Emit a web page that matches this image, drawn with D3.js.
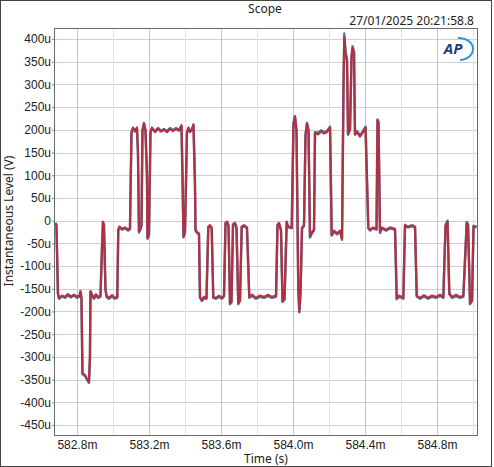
<!DOCTYPE html>
<html>
<head>
<meta charset="utf-8">
<script src="https://cdn.jsdelivr.net/npm/d3@7"></script>
<style>
  html, body { margin: 0; padding: 0; background: #fff; }
  svg { display: block; font-family: "Noto Sans", "DejaVu Sans", sans-serif; }
  .tick text { fill: #222; font-size: 12px; }
</style>
</head>
<body>
<svg id="chart"></svg>
<script>
// Time (ms) of each sample, shared by both channels
const timeMs = [
  582.6806,582.6861,582.6944,582.7000,582.7167,582.7333,582.7500,582.7667,582.7833,582.8000,
  582.8139,582.8194,582.8250,582.8306,582.8444,582.8556,582.8667,582.8722,582.8750,582.8833,
  582.8944,582.9056,582.9167,582.9306,582.9389,582.9444,582.9500,582.9583,582.9639,582.9778,
  582.9944,583.0111,583.0239,583.0294,583.0361,583.0500,583.0667,583.0833,583.0944,583.1028,
  583.1111,583.1222,583.1333,583.1389,583.1444,583.1500,583.1583,583.1639,583.1722,583.1806,
  583.1889,583.1917,583.2000,583.2083,583.2167,583.2333,583.2500,583.2667,583.2833,583.3000,
  583.3167,583.3333,583.3500,583.3667,583.3806,583.3861,583.3917,583.4000,583.4111,583.4194,
  583.4278,583.4389,583.4472,583.4556,583.4583,583.4667,583.4778,583.4833,583.4944,583.5056,
  583.5194,583.5294,583.5389,583.5483,583.5572,583.5722,583.5889,583.6056,583.6167,583.6250,
  583.6333,583.6417,583.6500,583.6583,583.6667,583.6778,583.6861,583.6961,583.7056,583.7150,
  583.7278,583.7444,583.7572,583.7722,583.7944,583.8167,583.8389,583.8611,583.8833,583.9056,
  583.9139,583.9222,583.9333,583.9417,583.9528,583.9650,583.9722,583.9928,584.0028,584.0111,
  584.0194,584.0294,584.0350,584.0417,584.0500,584.0611,584.0694,584.0778,584.0861,584.0944,
  584.1056,584.1167,584.1222,584.1389,584.1556,584.1722,584.1889,584.2056,584.2150,584.2278,
  584.2444,584.2611,584.2722,584.2806,584.2850,584.2917,584.3000,584.3056,584.3167,584.3250,
  584.3306,584.3389,584.3444,584.3556,584.3722,584.3889,584.4028,584.4183,584.4278,584.4444,
  584.4639,584.4694,584.4750,584.4833,584.4944,584.5167,584.5389,584.5667,584.5761,584.5889,
  584.6128,584.6222,584.6389,584.6611,584.6778,584.6872,584.7056,584.7278,584.7500,584.7722,
  584.7944,584.8167,584.8350,584.8472,584.8583,584.8683,584.8833,584.9056,584.9278,584.9461,
  584.9650,584.9722,584.9833,584.9944,585.0028,585.0194
];

// Channel 1 (blue), microvolts
const ch1 = [
  -5,-10,-162,-172,-167,-170,-165,-169,-165,-170,
  -168,-157,-172,-338,-342,-350,-357,-302,-157,-165,
  -172,-165,-170,-168,-62,-4,-12,-152,-168,-172,
  -167,-172,-170,-22,-15,-20,-17,-22,-19,193,
  203,196,203,148,-26,-22,-12,198,213,198,
  98,-40,-32,193,203,197,204,198,202,197,
  204,199,204,200,208,98,-37,-27,193,203,
  197,202,210,78,-22,-27,-30,-170,-177,-171,
  -172,-15,-12,-17,-170,-172,-168,-172,-167,-7,
  -4,-12,-184,-180,-10,-7,-17,-184,-177,-15,
  -12,-17,-170,-166,-172,-168,-170,-166,-170,-168,
  -11,-7,-22,-179,-174,-4,-14,-17,213,228,
  198,-152,-202,-162,-17,-12,188,213,198,-37,
  -27,-22,195,193,199,195,198,207,-33,-24,
  -30,-24,-42,302,412,372,354,191,202,362,
  384,372,191,197,188,197,207,-17,-22,-17,
  -20,223,217,-27,-17,-22,-17,-20,-173,-168,
  -172,-11,-13,-10,-13,-167,-172,-167,-172,-168,
  -170,-166,-170,-12,0,-162,-170,-166,-170,-168,
  -3,-8,-184,-177,-11,-13
];

// Channel 2 (red), microvolts
const ch2 = [
  -5,-10,-160,-170,-165,-168,-162,-167,-163,-167,
  -165,-155,-170,-336,-340,-348,-355,-300,-155,-162,
  -170,-162,-168,-165,-60,-2,-10,-150,-165,-170,
  -164,-170,-168,-20,-13,-18,-15,-20,-17,195,
  205,198,205,150,-24,-20,-10,200,215,200,
  100,-38,-30,195,205,195,202,196,200,195,
  202,197,202,198,210,100,-35,-25,195,205,
  195,200,212,80,-20,-25,-28,-168,-175,-168,
  -170,-13,-10,-15,-168,-170,-165,-170,-165,-5,
  -2,-10,-182,-178,-8,-5,-15,-182,-175,-13,
  -10,-15,-168,-163,-170,-165,-168,-163,-168,-165,
  -9,-5,-20,-177,-172,-2,-12,-15,215,230,
  200,-150,-200,-160,-15,-10,190,215,200,-35,
  -25,-20,193,190,196,192,195,205,-31,-22,
  -28,-22,-40,300,404,370,352,189,200,360,
  380,370,189,195,185,195,205,-15,-20,-15,
  -18,221,215,-25,-15,-20,-15,-18,-171,-165,
  -170,-9,-15,-12,-15,-165,-170,-164,-170,-165,
  -168,-163,-168,-10,-2,-160,-168,-163,-168,-165,
  -5,-10,-182,-175,-13,-15
];

const xDomain = [582.678, 585.022];
const yDomain = [-472, 422];
const xLabelTicks = [582.8, 583.2, 583.6, 584.0, 584.4, 584.8];
const xGridTicks = [582.8, 583.0, 583.2, 583.4, 583.6, 583.8, 584.0, 584.2, 584.4, 584.6, 584.8, 585.0];
const yTicks = [400, 350, 300, 250, 200, 150, 100, 50, 0, -50, -100, -150, -200, -250, -300, -350, -400, -450];

const W = 494, H = 467;
const margin = {top: 29, right: 17, bottom: 32, left: 55},
      width = W - margin.left - margin.right,
      height = H - margin.top - margin.bottom;

const svg = d3.select("#chart").attr("width", W).attr("height", H);

// window frame
svg.append("rect")
    .attr("x", 0.5).attr("y", 0.5)
    .attr("width", 491).attr("height", H - 1)
    .attr("fill", "none").attr("stroke", "#444");

svg.append("text")
    .attr("x", 265).attr("y", 13)
    .attr("text-anchor", "middle")
    .style("font-size", "12px").attr("fill", "#222")
    .text("Scope");

svg.append("text")
    .attr("x", 474).attr("y", 25)
    .attr("text-anchor", "end")
    .style("font-size", "12px").attr("fill", "#222")
    .text("27/01/2025 20:21:58.8");

const g = svg.append("g")
    .attr("transform", "translate(" + margin.left + "," + margin.top + ")");

// Scales
const xScale = d3.scaleLinear().domain(xDomain).range([0, width]);
const yScale = d3.scaleLinear().domain(yDomain).range([height, 0]);

// Grid
g.append("g").selectAll("line")
    .data(yTicks)
    .enter().append("line")
    .attr("x1", 0).attr("x2", width)
    .attr("y1", d => Math.round(yScale(d)) + 0.5)
    .attr("y2", d => Math.round(yScale(d)) + 0.5)
    .attr("stroke", "#cfcfcf");

g.append("g").selectAll("line")
    .data(xGridTicks)
    .enter().append("line")
    .attr("y1", 0).attr("y2", height)
    .attr("x1", d => Math.round(xScale(d)) + 0.5)
    .attr("x2", d => Math.round(xScale(d)) + 0.5)
    .attr("stroke", d => xLabelTicks.some(t => Math.abs(t - d) < 1e-6) ? "#c4c4c4" : "#e2e2e2");

// Axes
const fmtY = d => d === 0 ? "0" : d + "u";
g.append("g")
    .attr("class", "axis axis-y")
    .call(d3.axisLeft(yScale).tickValues(yTicks).tickFormat(fmtY).tickSize(3).tickPadding(1))
    .call(a => a.select(".domain").remove())
    .call(a => a.selectAll(".tick line").attr("stroke", "#888"));

g.append("g")
    .attr("class", "axis axis-x")
    .attr("transform", "translate(0," + height + ")")
    .call(d3.axisBottom(xScale).tickValues(xLabelTicks).tickFormat(d => d.toFixed(1) + "m").tickSize(0).tickPadding(5))
    .call(a => a.select(".domain").remove());

// Traces
g.append("clipPath").attr("id", "clip")
    .append("rect").attr("width", width).attr("height", height);

const line = vals => d3.line()
    .x((d, i) => xScale(timeMs[i]))
    .y(d => yScale(d))(vals);

const traces = g.append("g").attr("clip-path", "url(#clip)");
traces.append("path")
    .attr("d", line(ch1))
    .attr("fill", "none")
    .attr("stroke", "#4a78b2")
    .attr("stroke-width", 2.4)
    .attr("stroke-linejoin", "round");
traces.append("path")
    .attr("d", line(ch2))
    .attr("fill", "none")
    .attr("stroke", "#b42f3c")
    .attr("stroke-opacity", 0.94)
    .attr("stroke-width", 2.3)
    .attr("stroke-linejoin", "round");

// Plot border
g.append("rect")
    .attr("x", -0.5).attr("y", -0.5)
    .attr("width", width + 1).attr("height", height + 1)
    .attr("fill", "none").attr("stroke", "#6a6a6a");

// AP logo
const logo = g.append("g").attr("transform", "translate(" + (width - 21) + ",20)");
logo.append("path")
    .attr("d", "M2,-11 A14,11 0 0 1 4,11")
    .attr("fill", "none").attr("stroke", "#2a9ad0").attr("stroke-width", 2);
logo.append("text")
    .attr("x", -3).attr("y", 5)
    .attr("text-anchor", "middle")
    .style("font-size", "15px").style("font-weight", "bold").style("font-style", "italic")
    .attr("fill", "#1b3f7a")
    .text("AP");

// Axis titles
svg.append("text")
    .attr("x", margin.left + width / 2).attr("y", 463)
    .attr("text-anchor", "middle")
    .style("font-size", "12px").attr("fill", "#222")
    .text("Time (s)");

svg.append("text")
    .attr("transform", "translate(13,221) rotate(-90)")
    .attr("text-anchor", "middle")
    .style("font-size", "12px").attr("fill", "#222")
    .text("Instantaneous Level (V)");
</script>
</body>
</html>
